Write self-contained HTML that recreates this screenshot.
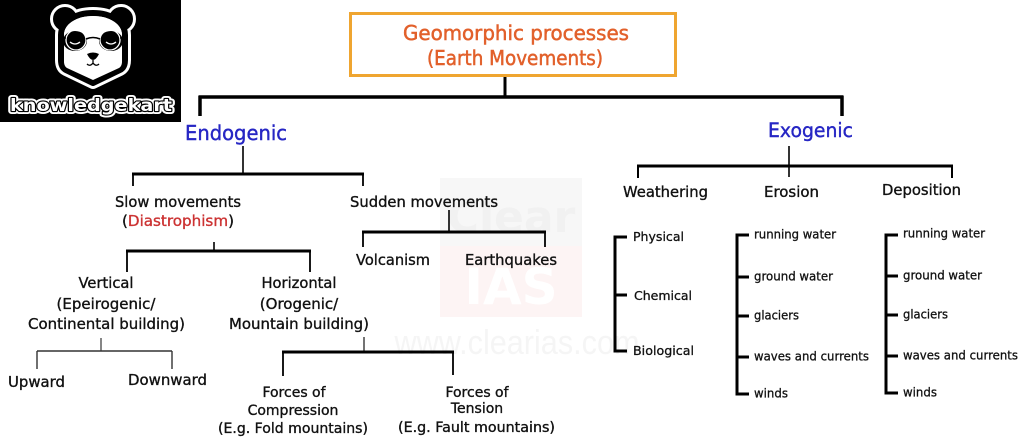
<!DOCTYPE html>
<html>
<head>
<meta charset="utf-8">
<style>
html,body{margin:0;padding:0;background:#fff;}
body{width:1024px;height:443px;overflow:hidden;}
svg{display:block;}
text{font-family:"DejaVu Sans","Liberation Sans",sans-serif;}
</style>
</head>
<body>
<svg width="1024" height="443" viewBox="0 0 1024 443" xmlns="http://www.w3.org/2000/svg">
  <rect x="0" y="0" width="1024" height="443" fill="#fff"/>

  <!-- watermark -->
  <rect x="440" y="178" width="142" height="68" fill="#f7f7f7"/>
  <rect x="440" y="246" width="142" height="71" fill="#fdf4f4"/>
  <text x="511" y="232" text-anchor="middle" font-size="44" font-weight="bold" fill="#f1f1f1">Clear</text>
  <text x="511" y="304" text-anchor="middle" font-size="50" font-weight="bold" fill="#ffffff">IAS</text>
  <text x="517" y="354" text-anchor="middle" font-size="34" fill="#f5f5f5" textLength="245" lengthAdjust="spacingAndGlyphs" style="font-family:'Liberation Sans',sans-serif">www.clearias.com</text>

  <!-- logo -->
  <rect x="0" y="0" width="181" height="122" fill="#000"/>
  <g>
    <circle cx="65" cy="19" r="9" fill="#fff" stroke="#fff" stroke-width="12"/>
    <circle cx="121" cy="19" r="9" fill="#fff" stroke="#fff" stroke-width="12"/>
    <path d="M93,83 L66,70 C62,68 61,64 61,60 L61,35 C61,22 75,13 93,13 C111,13 125,22 125,35 L125,60 C125,64 124,68 120,70 Z" fill="#fff" stroke="#fff" stroke-width="12" stroke-linejoin="round"/>
    <circle cx="65" cy="19" r="9" fill="#000" stroke="#000" stroke-width="6"/>
    <circle cx="121" cy="19" r="9" fill="#000" stroke="#000" stroke-width="6"/>
    <path d="M93,83 L66,70 C62,68 61,64 61,60 L61,35 C61,22 75,13 93,13 C111,13 125,22 125,35 L125,60 C125,64 124,68 120,70 Z" fill="#fff" stroke="#000" stroke-width="6" stroke-linejoin="round"/>
    <path d="M93,80 L67,68 C64,66 64,63 64,60 L64,35 C64,24 77,16 93,16 C109,16 122,24 122,35 L122,60 C122,63 122,66 119,68 Z" fill="#fff"/>
    <ellipse cx="75" cy="41" rx="12" ry="10" fill="#000"/>
    <ellipse cx="111" cy="41" rx="12" ry="10" fill="#000"/>
    <circle cx="76" cy="40" r="10" fill="none" stroke="#fff" stroke-width="1.3"/>
    <circle cx="110" cy="40" r="10" fill="none" stroke="#fff" stroke-width="1.3"/>
    <path d="M86,39 Q93,36 100,39" fill="none" stroke="#000" stroke-width="1.5"/>
    <path d="M63,38 H66 M120,38 H123" stroke="#000" stroke-width="1.2"/>
    <path d="M70,42 Q75,46 80,42 M106,42 Q111,46 116,42" fill="none" stroke="#fff" stroke-width="1.3"/>
    <path d="M87,54 Q93,51 99,54 Q96,60 93,60 Q90,60 87,54 Z" fill="#000"/>
    <path d="M93,60 V63 M87,64 Q90,67 93,63 Q96,67 99,64" fill="none" stroke="#000" stroke-width="1.3"/>
  </g>
  <text x="10" y="111" font-size="17" font-weight="bold" fill="#fff" stroke="#fff" stroke-width="6" stroke-linejoin="round" textLength="162" lengthAdjust="spacingAndGlyphs">knowledgekart</text>
  <text x="10" y="111" font-size="17" font-weight="bold" fill="#fff" stroke="#000" stroke-width="2.2" stroke-linejoin="round" style="paint-order:stroke" textLength="162" lengthAdjust="spacingAndGlyphs">knowledgekart</text>

  <!-- title -->
  <rect x="350.5" y="13.5" width="325" height="62" fill="#fff" stroke="#efa530" stroke-width="3"/>
  <text x="516" y="40" text-anchor="middle" font-size="20" fill="#e2602b" stroke="#e2602b" stroke-width="0.5" textLength="226" lengthAdjust="spacingAndGlyphs">Geomorphic processes</text>
  <text x="515" y="65" text-anchor="middle" font-size="20" fill="#e2602b" stroke="#e2602b" stroke-width="0.5" textLength="176" lengthAdjust="spacingAndGlyphs">(Earth Movements)</text>

  <!-- connectors -->
  <g stroke="#000" fill="none">
    <path d="M505,77 V97" stroke-width="3"/>
    <path d="M198.5,97 H843.5" stroke-width="3.5"/>
    <path d="M200,96 V116 M842,96 V116" stroke-width="3.5"/>

    <path d="M243,146 V174" stroke-width="1.6"/>
    <path d="M132,174 H364" stroke-width="3"/>
    <path d="M133,174 V186 M363,174 V186" stroke-width="1.8"/>

    <path d="M449,210 V232" stroke-width="1.6"/>
    <path d="M362,232 H546" stroke-width="3"/>
    <path d="M363,232 V247 M545,232 V247" stroke-width="1.8"/>

    <path d="M214,242 V251" stroke-width="1.6"/>
    <path d="M126,251 H311" stroke-width="3"/>
    <path d="M127,251 V272 M310,251 V272" stroke-width="1.8"/>

    <path d="M101,338 V351" stroke-width="1.3" stroke="#444"/>
    <path d="M37,351 H172" stroke-width="1.6" stroke="#333"/>
    <path d="M37,351 V369 M172,351 V369" stroke-width="1.4" stroke="#333"/>

    <path d="M364,337 V352" stroke-width="1.5" stroke="#444"/>
    <path d="M282,352 H454" stroke-width="3"/>
    <path d="M283,352 V376 M453,352 V375" stroke-width="1.8"/>

    <path d="M789,146 V177" stroke-width="1.6"/>
    <path d="M637,166 H953" stroke-width="3"/>
    <path d="M638,166 V178 M952,166 V178" stroke-width="2"/>

    <path d="M627,237 H615 V351 H627 M615,295 H627" stroke-width="3"/>
    <path d="M749,235 H737 V394 H749 M737,277 H749 M737,316 H749 M737,357 H749" stroke-width="3"/>
    <path d="M898,235 H886 V393 H898 M886,276 H898 M886,315 H898 M886,356 H898" stroke-width="3"/>
  </g>

  <!-- level 1 -->
  <text x="185" y="140" font-size="20" fill="#2626c4" stroke="#2626c4" stroke-width="0.4" textLength="102" lengthAdjust="spacingAndGlyphs">Endogenic</text>
  <text x="768" y="137" font-size="19.5" fill="#2626c4" stroke="#2626c4" stroke-width="0.4" textLength="85" lengthAdjust="spacingAndGlyphs">Exogenic</text>

  <g fill="#111" stroke="#111" stroke-width="0.35" font-size="15">
    <text x="178" y="207" text-anchor="middle" textLength="126" lengthAdjust="spacingAndGlyphs">Slow movements</text>
    <text x="178" y="226" text-anchor="middle" textLength="112" lengthAdjust="spacingAndGlyphs">(<tspan fill="#cc3333" stroke="#cc3333">Diastrophism</tspan>)</text>
    <text x="424" y="207" text-anchor="middle" textLength="148" lengthAdjust="spacingAndGlyphs">Sudden movements</text>
    <text x="356" y="265" textLength="74" lengthAdjust="spacingAndGlyphs">Volcanism</text>
    <text x="465" y="265" textLength="92" lengthAdjust="spacingAndGlyphs">Earthquakes</text>

    <text x="106" y="288" text-anchor="middle" textLength="55" lengthAdjust="spacingAndGlyphs">Vertical</text>
    <text x="106" y="309" text-anchor="middle">(Epeirogenic/</text>
    <text x="106.5" y="329" text-anchor="middle" textLength="157" lengthAdjust="spacingAndGlyphs">Continental building)</text>

    <text x="299" y="288" text-anchor="middle" textLength="75" lengthAdjust="spacingAndGlyphs">Horizontal</text>
    <text x="299" y="309" text-anchor="middle">(Orogenic/</text>
    <text x="299" y="329" text-anchor="middle" textLength="140" lengthAdjust="spacingAndGlyphs">Mountain building)</text>

    <text x="8" y="387" textLength="57" lengthAdjust="spacingAndGlyphs">Upward</text>
    <text x="128" y="385" textLength="79" lengthAdjust="spacingAndGlyphs">Downward</text>

    <text x="294" y="397" text-anchor="middle" font-size="14">Forces of</text>
    <text x="293" y="415" text-anchor="middle" font-size="14">Compression</text>
    <text x="293" y="433" text-anchor="middle" font-size="14" textLength="150" lengthAdjust="spacingAndGlyphs">(E.g. Fold mountains)</text>

    <text x="477" y="397" text-anchor="middle" font-size="14">Forces of</text>
    <text x="477" y="413" text-anchor="middle" font-size="14">Tension</text>
    <text x="476.5" y="432" text-anchor="middle" font-size="14" textLength="157" lengthAdjust="spacingAndGlyphs">(E.g. Fault mountains)</text>

    <text x="623" y="197" textLength="85" lengthAdjust="spacingAndGlyphs">Weathering</text>
    <text x="764" y="197" textLength="55" lengthAdjust="spacingAndGlyphs">Erosion</text>
    <text x="882" y="195" textLength="79" lengthAdjust="spacingAndGlyphs">Deposition</text>
  </g>

  <g fill="#111" stroke="#111" stroke-width="0.3" font-size="12.5">
    <text x="633" y="241" textLength="51" lengthAdjust="spacingAndGlyphs">Physical</text>
    <text x="634" y="300" textLength="58" lengthAdjust="spacingAndGlyphs">Chemical</text>
    <text x="633" y="355" textLength="61" lengthAdjust="spacingAndGlyphs">Biological</text>

    <text x="754" y="238.5" textLength="82" lengthAdjust="spacingAndGlyphs">running water</text>
    <text x="754" y="280.5" textLength="79" lengthAdjust="spacingAndGlyphs">ground water</text>
    <text x="754" y="319.5" textLength="45" lengthAdjust="spacingAndGlyphs">glaciers</text>
    <text x="754" y="360.5" textLength="115" lengthAdjust="spacingAndGlyphs">waves and currents</text>
    <text x="754" y="397.5" textLength="34" lengthAdjust="spacingAndGlyphs">winds</text>

    <text x="903" y="237.5" textLength="82" lengthAdjust="spacingAndGlyphs">running water</text>
    <text x="903" y="279.5" textLength="79" lengthAdjust="spacingAndGlyphs">ground water</text>
    <text x="903" y="318.5" textLength="45" lengthAdjust="spacingAndGlyphs">glaciers</text>
    <text x="903" y="359.5" textLength="115" lengthAdjust="spacingAndGlyphs">waves and currents</text>
    <text x="903" y="396.5" textLength="34" lengthAdjust="spacingAndGlyphs">winds</text>
  </g>
</svg>
</body>
</html>
